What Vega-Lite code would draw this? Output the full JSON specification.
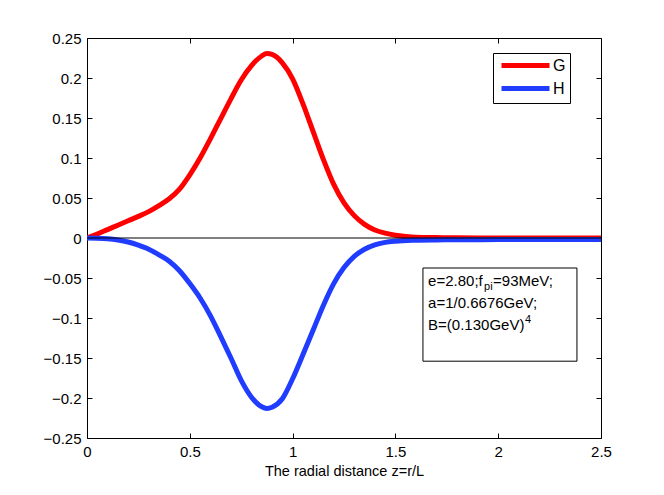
{
  "$schema": "https://vega.github.io/schema/vega-lite/v6.json",
  "width": 514,
  "height": 400,
  "autosize": {"type": "none"},
  "padding": {"left": 87, "top": 38, "right": 63, "bottom": 57},
  "background": "white",
  "config": {
    "font": "Liberation Sans",
    "view": {"stroke": "black", "strokeWidth": 1},
    "axis": {
      "grid": false,
      "domain": false,
      "tickColor": "black",
      "tickSize": 5,
      "labelFlush": false,
      "labelFont": "Liberation Sans",
      "labelFontSize": 15,
      "labelColor": "black",
      "titleFont": "Liberation Sans",
      "titleFontSize": 14.5,
      "titleFontWeight": "normal",
      "titleColor": "black"
    },
    "legend": {
      "orient": "none",
      "legendX": 406,
      "legendY": 15,
      "strokeColor": "black",
      "fillColor": "white",
      "padding": 4,
      "symbolType": "M-4,0H4",
      "symbolSize": 144,
      "symbolOffset": 20,
      "symbolStrokeWidth": 5,
      "labelOffset": 19,
      "labelFont": "Liberation Sans",
      "labelFontSize": 16,
      "labelColor": "black",
      "rowPadding": 2
    }
  },
  "layer": [
    {
      "data": {
        "values": [
          {"z": 0, "series": "G", "v": 0},
          {"z": 0.05, "series": "G", "v": 0.005},
          {"z": 0.1, "series": "G", "v": 0.0105},
          {"z": 0.15, "series": "G", "v": 0.016},
          {"z": 0.2, "series": "G", "v": 0.0215},
          {"z": 0.25, "series": "G", "v": 0.027},
          {"z": 0.3, "series": "G", "v": 0.033},
          {"z": 0.35, "series": "G", "v": 0.0405},
          {"z": 0.4, "series": "G", "v": 0.049},
          {"z": 0.45, "series": "G", "v": 0.061},
          {"z": 0.5, "series": "G", "v": 0.079},
          {"z": 0.55, "series": "G", "v": 0.1},
          {"z": 0.6, "series": "G", "v": 0.124},
          {"z": 0.65, "series": "G", "v": 0.149},
          {"z": 0.7, "series": "G", "v": 0.174},
          {"z": 0.75, "series": "G", "v": 0.1975},
          {"z": 0.8, "series": "G", "v": 0.2155},
          {"z": 0.85, "series": "G", "v": 0.2275},
          {"z": 0.875, "series": "G", "v": 0.2305},
          {"z": 0.9, "series": "G", "v": 0.2295},
          {"z": 0.95, "series": "G", "v": 0.219},
          {"z": 1.0, "series": "G", "v": 0.199},
          {"z": 1.05, "series": "G", "v": 0.168},
          {"z": 1.1, "series": "G", "v": 0.133},
          {"z": 1.15, "series": "G", "v": 0.098},
          {"z": 1.2, "series": "G", "v": 0.067},
          {"z": 1.25, "series": "G", "v": 0.044},
          {"z": 1.3, "series": "G", "v": 0.028},
          {"z": 1.35, "series": "G", "v": 0.017},
          {"z": 1.4, "series": "G", "v": 0.01},
          {"z": 1.45, "series": "G", "v": 0.006},
          {"z": 1.5, "series": "G", "v": 0.0035},
          {"z": 1.55, "series": "G", "v": 0.002},
          {"z": 1.6, "series": "G", "v": 0.001},
          {"z": 1.7, "series": "G", "v": 0.0005},
          {"z": 1.8, "series": "G", "v": 0.0002},
          {"z": 2.0, "series": "G", "v": 0.0001},
          {"z": 2.5, "series": "G", "v": 0},
          {"z": 0, "series": "H", "v": 0},
          {"z": 0.05, "series": "H", "v": -0.0003},
          {"z": 0.1, "series": "H", "v": -0.001},
          {"z": 0.15, "series": "H", "v": -0.0025},
          {"z": 0.2, "series": "H", "v": -0.005},
          {"z": 0.25, "series": "H", "v": -0.009},
          {"z": 0.3, "series": "H", "v": -0.014},
          {"z": 0.35, "series": "H", "v": -0.021},
          {"z": 0.4, "series": "H", "v": -0.029},
          {"z": 0.45, "series": "H", "v": -0.041},
          {"z": 0.5, "series": "H", "v": -0.057},
          {"z": 0.55, "series": "H", "v": -0.075},
          {"z": 0.6, "series": "H", "v": -0.097},
          {"z": 0.65, "series": "H", "v": -0.123},
          {"z": 0.7, "series": "H", "v": -0.15},
          {"z": 0.75, "series": "H", "v": -0.178},
          {"z": 0.8, "series": "H", "v": -0.199},
          {"z": 0.85, "series": "H", "v": -0.211},
          {"z": 0.875, "series": "H", "v": -0.213},
          {"z": 0.9, "series": "H", "v": -0.2115},
          {"z": 0.95, "series": "H", "v": -0.201},
          {"z": 1.0, "series": "H", "v": -0.176},
          {"z": 1.05, "series": "H", "v": -0.146},
          {"z": 1.1, "series": "H", "v": -0.115},
          {"z": 1.15, "series": "H", "v": -0.084},
          {"z": 1.2, "series": "H", "v": -0.057},
          {"z": 1.25, "series": "H", "v": -0.037},
          {"z": 1.3, "series": "H", "v": -0.023},
          {"z": 1.35, "series": "H", "v": -0.014},
          {"z": 1.4, "series": "H", "v": -0.0085},
          {"z": 1.45, "series": "H", "v": -0.0055},
          {"z": 1.5, "series": "H", "v": -0.004},
          {"z": 1.6, "series": "H", "v": -0.0028},
          {"z": 1.7, "series": "H", "v": -0.0024},
          {"z": 1.8, "series": "H", "v": -0.0022},
          {"z": 2.0, "series": "H", "v": -0.002},
          {"z": 2.5, "series": "H", "v": -0.002}
        ]
      },
      "mark": {"type": "line", "strokeWidth": 5, "strokeJoin": "round", "interpolate": "monotone", "clip": true},
      "encoding": {
        "x": {
          "field": "z",
          "type": "quantitative",
          "scale": {"domain": [0, 2.5], "nice": false, "zero": false},
          "axis": {
            "orient": "bottom",
            "values": [0, 0.5, 1, 1.5, 2, 2.5],
            "format": "~g",
            "ticks": false,
            "labelPadding": 6,
            "title": "The radial distance z=r/L",
            "titlePadding": 5
          }
        },
        "y": {
          "field": "v",
          "type": "quantitative",
          "scale": {"domain": [-0.25, 0.25], "nice": false, "zero": false},
          "axis": {
            "orient": "left",
            "values": [-0.25, -0.2, -0.15, -0.1, -0.05, 0, 0.05, 0.1, 0.15, 0.2, 0.25],
            "format": "~g",
            "ticks": false,
            "labelPadding": 6,
            "title": null
          }
        },
        "color": {
          "field": "series",
          "type": "nominal",
          "scale": {"domain": ["G", "H"], "range": ["#ff0000", "#1f3cff"]},
          "legend": {"title": null}
        }
      }
    },
    {
      "data": {"values": [{}]},
      "mark": {"type": "rule", "color": "black", "strokeWidth": 1},
      "encoding": {
        "x": {
          "datum": 0,
          "type": "quantitative",
          "scale": {"domain": [0, 2.5], "nice": false, "zero": false},
          "axis": {
            "orient": "top",
            "values": [0, 0.5, 1, 1.5, 2, 2.5],
            "labels": false,
            "offset": -5,
            "title": null
          }
        },
        "x2": {"datum": 2.5},
        "y": {
          "datum": 0,
          "type": "quantitative",
          "scale": {"domain": [-0.25, 0.25], "nice": false, "zero": false},
          "axis": {
            "orient": "right",
            "values": [-0.25, -0.2, -0.15, -0.1, -0.05, 0, 0.05, 0.1, 0.15, 0.2, 0.25],
            "labels": false,
            "offset": -5,
            "title": null
          }
        }
      }
    },
    {
      "data": {"values": [{}]},
      "mark": {"type": "rect", "fill": "white", "stroke": "black", "strokeWidth": 1},
      "encoding": {
        "x": {
          "datum": 1.634,
          "type": "quantitative",
          "scale": {"nice": false, "zero": false},
          "axis": {
            "orient": "bottom",
            "values": [0, 0.5, 1, 1.5, 2, 2.5],
            "labels": false,
            "offset": -5,
            "title": null
          }
        },
        "x2": {"datum": 2.383},
        "y": {
          "datum": -0.0375,
          "type": "quantitative",
          "scale": {"nice": false, "zero": false},
          "axis": {
            "orient": "left",
            "values": [-0.25, -0.2, -0.15, -0.1, -0.05, 0, 0.05, 0.1, 0.15, 0.2, 0.25],
            "labels": false,
            "offset": -5,
            "title": null
          }
        },
        "y2": {"datum": -0.154}
      }
    },
    {
      "data": {"values": [{}]},
      "mark": {"type": "text", "text": "e=2.80;f", "align": "left", "baseline": "alphabetic", "fontSize": 15, "color": "black"},
      "encoding": {
        "x": {"datum": 1.659, "type": "quantitative", "scale": {"nice": false, "zero": false}, "axis": null},
        "y": {"datum": -0.06, "type": "quantitative", "scale": {"nice": false, "zero": false}, "axis": null}
      }
    },
    {
      "data": {"values": [{}]},
      "mark": {"type": "text", "text": "pi", "align": "left", "baseline": "alphabetic", "fontSize": 11, "dx": 56, "dy": 4, "color": "black"},
      "encoding": {
        "x": {"datum": 1.659, "type": "quantitative", "scale": {"nice": false, "zero": false}, "axis": null},
        "y": {"datum": -0.06, "type": "quantitative", "scale": {"nice": false, "zero": false}, "axis": null}
      }
    },
    {
      "data": {"values": [{}]},
      "mark": {"type": "text", "text": "=93MeV;", "align": "left", "baseline": "alphabetic", "fontSize": 15, "dx": 65, "color": "black"},
      "encoding": {
        "x": {"datum": 1.659, "type": "quantitative", "scale": {"nice": false, "zero": false}, "axis": null},
        "y": {"datum": -0.06, "type": "quantitative", "scale": {"nice": false, "zero": false}, "axis": null}
      }
    },
    {
      "data": {"values": [{}]},
      "mark": {"type": "text", "text": "a=1/0.6676GeV;", "align": "left", "baseline": "alphabetic", "fontSize": 15, "color": "black"},
      "encoding": {
        "x": {"datum": 1.659, "type": "quantitative", "scale": {"nice": false, "zero": false}, "axis": null},
        "y": {"datum": -0.0875, "type": "quantitative", "scale": {"nice": false, "zero": false}, "axis": null}
      }
    },
    {
      "data": {"values": [{}]},
      "mark": {"type": "text", "text": "B=(0.130GeV)", "align": "left", "baseline": "alphabetic", "fontSize": 15, "color": "black"},
      "encoding": {
        "x": {"datum": 1.659, "type": "quantitative", "scale": {"nice": false, "zero": false}, "axis": null},
        "y": {"datum": -0.115, "type": "quantitative", "scale": {"nice": false, "zero": false}, "axis": null}
      }
    },
    {
      "data": {"values": [{}]},
      "mark": {"type": "text", "text": "4", "align": "left", "baseline": "alphabetic", "fontSize": 11, "dx": 97, "dy": -7, "color": "black"},
      "encoding": {
        "x": {"datum": 1.659, "type": "quantitative", "scale": {"nice": false, "zero": false}, "axis": null},
        "y": {"datum": -0.115, "type": "quantitative", "scale": {"nice": false, "zero": false}, "axis": null}
      }
    }
  ],
  "resolve": {"axis": {"x": "independent", "y": "independent"}}
}
